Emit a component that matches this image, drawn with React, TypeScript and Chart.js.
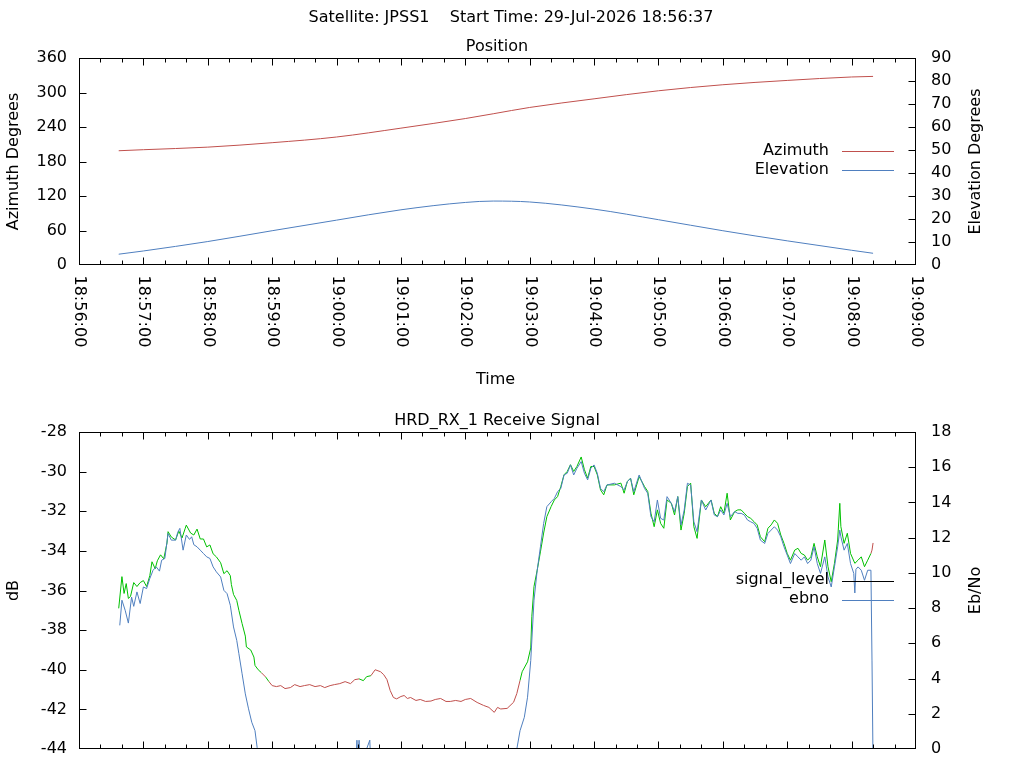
import { useEffect, useRef } from "react"
import { Chart, registerables } from "chart.js"

Chart.register(...registerables)

const FONT = '"DejaVu Sans", sans-serif'
const RED = "#c0504d"
const BLUE = "#4f7fbf"
const GREEN = "#00c000"

const mainTitle = "Satellite: JPSS1    Start Time: 29-Jul-2026 18:56:37"

// seconds after 18:56:00
const posTimes = [37, 60, 120, 180, 240, 300, 360, 386, 420, 480, 540, 600, 660, 720, 740]
const azimuth = [198.7, 200.5, 205, 212.7, 222.6, 238, 254.7, 263, 274, 289, 303, 313.5, 321, 327, 328]
const elevation = [4.7, 6.1, 10.2, 14.9, 19.5, 24, 27.2, 27.8, 27.4, 24.3, 19.7, 14.9, 10.5, 6.4, 5.1]

const signalTimes = [
  37, 40, 42, 44, 46, 48, 51, 54, 57, 60, 63, 66, 68, 71, 73, 76, 79, 82, 83, 86,
  90, 93, 96, 99, 100, 104, 107, 110, 113, 116, 119, 122, 125, 128, 132, 135, 138, 141, 142, 144,
  147, 149, 152, 155, 156, 160, 163, 164, 167, 170, 174, 177, 180, 184, 188, 192, 197, 201, 206, 210,
  215, 220, 225, 229, 234, 238, 243, 248, 253, 257, 261, 265, 268, 272, 276, 281, 284, 287, 290, 293,
  296, 300, 303, 306, 309, 314, 318, 323, 328, 332, 337, 342, 346, 351, 356, 360, 365, 371, 377, 382,
  387, 390, 393, 399, 405, 408, 411, 413, 418, 421, 422, 424, 427, 430, 433, 436, 440, 443, 446, 449,
  452, 455, 458, 461, 464, 468, 471, 474, 477, 480, 483, 486, 489, 492, 499, 505, 508, 511, 514, 517,
  522, 527, 530, 533, 536, 539, 542, 545, 548, 552, 555, 558, 561, 564, 567, 570, 573, 576, 580, 584,
  589, 592, 595, 598, 601, 604, 607, 611, 614, 617, 620, 623, 626, 629, 632, 635, 639, 642, 645, 648,
  651, 654, 657, 660, 663, 667, 670, 673, 676, 679, 682, 685, 688, 691, 695, 698, 701, 704, 707, 709,
  710, 713, 716, 719, 723, 726, 729, 732, 735, 738, 739, 740,
]
const signalDb = [
  -36.9, -35.3, -36.15, -35.65, -36.4, -36.3, -35.6, -35.8, -35.6, -35.5, -35.8, -35.25, -34.55, -34.9, -34.5, -34.2, -34.4, -33.6, -33.03, -33.3,
  -33.45, -33.0, -33.35, -32.86, -32.7, -33.1, -33.2, -32.9, -33.4, -33.4, -33.8, -33.7, -34.15, -34.3, -34.6, -35.15, -35.0, -35.25, -35.7, -36.2,
  -36.5, -37.0, -37.67, -38.3, -38.85, -39.0, -39.36, -39.78, -40.0, -40.15, -40.37, -40.6, -40.8, -40.85, -40.8, -40.95, -40.9, -40.75, -40.85, -40.8,
  -40.75, -40.85, -40.8, -40.9, -40.8, -40.75, -40.7, -40.6, -40.7, -40.5, -40.46, -40.55, -40.35, -40.3, -40.0, -40.1, -40.25, -40.5, -41.05, -41.4,
  -41.47, -41.35, -41.3, -41.45, -41.4, -41.55, -41.5, -41.6, -41.58, -41.5, -41.45, -41.6, -41.6, -41.55, -41.6, -41.5, -41.45, -41.65, -41.8, -41.9,
  -42.15, -41.9, -41.98, -41.95, -41.64, -41.2, -40.54, -40.1, -39.6, -38.9, -37.3, -35.8, -34.97, -34.05, -33.1, -32.27, -31.76, -31.43, -31.26, -30.75,
  -30.16, -29.99, -29.65, -29.99, -29.74, -29.26, -29.9, -30.33, -29.74, -29.74, -30.16, -30.92, -31.17, -30.67, -30.67, -30.58, -31.09, -30.5, -30.33, -31.17,
  -30.25, -30.75, -31.0, -32.1, -32.78, -31.93, -32.61, -32.86, -31.43, -31.6, -32.19, -31.26, -32.95, -32.1, -30.75, -30.58, -32.78, -33.37, -31.43, -31.77,
  -31.43, -32.1, -32.27, -31.77, -32.1, -31.09, -32.44, -32.02, -31.93, -31.93, -32.1, -32.27, -32.36, -32.52, -32.69, -33.29, -33.54, -32.86, -32.69, -32.44,
  -32.61, -33.2, -33.62, -34.13, -34.47, -33.96, -33.87, -34.13, -34.21, -34.47, -34.3, -33.62, -34.3, -34.8, -33.45, -34.8, -35.56, -34.63, -33.45, -31.6,
  -32.78, -33.62, -33.11, -34.13, -34.63, -34.47, -34.3, -34.8, -34.47, -34.13, -33.96, -33.6,
]
// 1 = receiver locked (green), 0 = not locked (red)
const signalLocked = [
  1, 1, 1, 1, 1, 1, 1, 1, 1, 1, 1, 1, 1, 1, 1, 1, 1, 1, 1, 1,
  1, 1, 1, 1, 1, 1, 1, 1, 1, 1, 1, 1, 1, 1, 1, 1, 1, 1, 1, 1,
  1, 1, 1, 1, 1, 1, 1, 1, 1, 0, 1, 0, 0, 0, 0, 0, 0, 0, 0, 0,
  0, 0, 0, 0, 0, 0, 0, 0, 0, 0, 1, 1, 1, 0, 0, 0, 0, 0, 0, 0,
  0, 0, 0, 0, 0, 0, 0, 0, 0, 0, 0, 0, 0, 0, 0, 0, 0, 0, 0, 0,
  0, 0, 0, 0, 0, 0, 1, 1, 1, 1, 1, 1, 1, 1, 1, 1, 1, 1, 1, 1,
  1, 1, 1, 1, 1, 1, 1, 1, 1, 1, 1, 1, 1, 1, 1, 1, 1, 1, 1, 1,
  1, 1, 1, 1, 1, 1, 1, 1, 1, 1, 1, 1, 1, 1, 1, 1, 1, 1, 1, 1,
  1, 1, 1, 1, 1, 1, 1, 1, 1, 1, 1, 1, 1, 1, 1, 1, 1, 1, 1, 1,
  1, 1, 1, 1, 1, 1, 1, 1, 1, 1, 1, 1, 1, 1, 1, 1, 1, 1, 1, 1,
  1, 1, 1, 1, 1, 1, 1, 1, 1, 0, 0, 0,
]

const ebnoTimes = [
  38, 40, 43, 46, 49, 51, 54, 57, 60, 63, 66, 69, 72, 75, 77, 80, 83, 86, 90, 92,
  94, 97, 100, 103, 105, 107, 110, 113, 116, 119, 122, 125, 128, 132, 135, 138, 141, 144, 147, 149,
  152, 155, 158, 161, 164, 166, 168, 258, 259, 260, 261, 262, 271, 272, 407, 408, 411, 415, 418, 421,
  424, 427, 430, 433, 436, 440, 443, 446, 449, 452, 455, 458, 461, 464, 468, 471, 474, 477, 480, 483,
  486, 489, 492, 499, 505, 508, 511, 514, 517, 522, 527, 530, 533, 536, 539, 542, 545, 548, 552, 555,
  558, 561, 564, 567, 570, 573, 576, 580, 584, 589, 592, 595, 598, 601, 604, 607, 611, 614, 617, 620,
  623, 626, 629, 632, 635, 639, 642, 645, 648, 651, 654, 657, 660, 663, 667, 670, 673, 676, 679, 682,
  685, 688, 691, 695, 698, 701, 704, 707, 709, 710, 713, 716, 719, 722, 723, 724, 726, 729, 732, 735,
  738, 739, 740,
]
const ebno = [
  7.02, 8.45, 7.88, 7.15, 8.63, 8.1, 8.92, 8.26, 9.2, 9.11, 9.68, 10.15, 10.34, 10.1, 10.72, 10.82, 12.24, 11.86, 11.86, 12.3,
  12.53, 11.29, 12.15, 11.9, 12.05, 11.6, 11.48, 11.29, 11.1, 10.91, 10.82, 10.34, 10.06, 9.77, 9.01, 8.82, 8.16, 6.93, 6.17, 5.41,
  4.27, 3.13, 2.28, 1.52, 1.04, 0.09, -1, -1, 0.5, -1, 0.5, -1, 0.5, -1, -1, 0, 1.04, 1.8, 2.94, 5.03,
  8.45, 10.15, 11.48, 12.81, 13.76, 14.04, 14.23, 14.61, 14.8, 15.56, 15.66, 16.13, 15.56, 15.94, 16.32, 15.66, 15.28, 15.94, 16.13, 15.66,
  14.8, 14.61, 14.99, 15.09, 14.9, 14.71, 15.18, 15.37, 14.61, 15.56, 14.8, 14.52, 13.19, 12.9, 14.14, 13.1, 13.0, 14.33, 13.95, 13.48,
  14.33, 12.72, 13.57, 15.09, 14.99, 12.9, 12.34, 14.14, 13.57, 14.14, 13.29, 13.19, 13.57, 13.29, 13.95, 13.19, 13.48, 13.38, 13.38, 13.29,
  13.0, 12.9, 12.81, 12.53, 11.86, 11.67, 12.24, 12.43, 12.62, 12.43, 12.05, 11.48, 11.01, 10.53, 11.1, 10.91, 10.72, 10.91, 10.53, 10.72,
  11.48, 10.53, 9.97, 10.91, 9.77, 9.2, 10.34, 11.48, 12.43, 12.05, 11.29, 11.67, 10.53, 9.97, 8.86, 10.2, 10.34, 10.15, 9.58, 10.15,
  10.15, 5.0, -1,
]

function clock(sec: number) {
  const total = 18 * 3600 + 56 * 60 + sec
  const h = Math.floor(total / 3600)
  const m = Math.floor(total / 60) % 60
  const s = total % 60
  return [h, m, s].map((n) => String(n).padStart(2, "0")).join(":")
}

// gnuplot style frame: inward tics, border, rotated time labels, titles and key
const frame = {
  id: "frame",
  afterDraw(chart: any, _args: any, o: any) {
    const { ctx, chartArea: a, scales } = chart
    const sx = scales.x
    const L = a.left + 0.5
    const R = a.right - 0.5
    const T = a.top + 0.5
    const B = a.bottom - 0.5
    const clamp = (v: number, lo: number, hi: number) => Math.max(lo, Math.min(hi, v))
    ctx.save()
    ctx.strokeStyle = "#000"
    ctx.lineWidth = 1
    ctx.beginPath()
    for (const t of sx.ticks) {
      const px = clamp(Math.round(sx.getPixelForValue(t.value)) + 0.5, L, R)
      const len = t.value % 60 === 0 ? 7 : 4
      ctx.moveTo(px, B)
      ctx.lineTo(px, B - len)
      ctx.moveTo(px, T)
      ctx.lineTo(px, T + len)
    }
    for (const t of scales.y.ticks) {
      const py = clamp(Math.round(scales.y.getPixelForValue(t.value)) + 0.5, T, B)
      ctx.moveTo(L, py)
      ctx.lineTo(L + 7, py)
    }
    for (const t of scales.y1.ticks) {
      const py = clamp(Math.round(scales.y1.getPixelForValue(t.value)) + 0.5, T, B)
      ctx.moveTo(R, py)
      ctx.lineTo(R - 7, py)
    }
    ctx.stroke()
    ctx.strokeRect(L, T, R - L, B - T)

    ctx.fillStyle = "#000"
    ctx.font = `16px ${FONT}`
    ctx.textBaseline = "middle"
    if (o.xLabels) {
      ctx.textAlign = "left"
      for (const t of sx.ticks) {
        if (t.value % 60 !== 0) continue
        ctx.save()
        ctx.translate(Math.round(sx.getPixelForValue(t.value)), B + 11)
        ctx.rotate(Math.PI / 2)
        ctx.fillText(clock(t.value), 0, 0)
        ctx.restore()
      }
    }
    ctx.textAlign = "center"
    const cx = (a.left + a.right) / 2
    const cy = (a.top + a.bottom) / 2
    if (o.mainTitle) ctx.fillText(o.mainTitle, 511, 17.5)
    if (o.title) ctx.fillText(o.title, cx - 0.5, a.top - 11.5)
    if (o.xTitle) ctx.fillText(o.xTitle, cx - 2, B + 115)
    const vertical = (text: string, x: number) => {
      ctx.save()
      ctx.translate(x, cy)
      ctx.rotate(-Math.PI / 2)
      ctx.fillText(text, 0, 0)
      ctx.restore()
    }
    if (o.yTitle) vertical(o.yTitle, 13.5)
    if (o.y1Title) vertical(o.y1Title, 976)

    // key
    ctx.textAlign = "right"
    chart.data.datasets.forEach((ds: any, i: number) => {
      const y = o.keyTop + i * 19
      ctx.fillText(ds.label, 829, y - 0.5)
      ctx.strokeStyle = ds.borderColor
      ctx.beginPath()
      ctx.moveTo(842, Math.round(y) + 0.5)
      ctx.lineTo(894, Math.round(y) + 0.5)
      ctx.stroke()
    })
    ctx.restore()
  },
}

const axisFont = { family: FONT, size: 16 }

function xScale(height: number) {
  return {
    type: "linear" as const,
    min: 0,
    max: 780,
    ticks: { display: false, stepSize: 20, autoSkip: false },
    grid: { display: false, drawTicks: false },
    border: { display: false },
    afterFit: (s: any) => {
      s.height = height
    },
  }
}

function yScale(pos: "left" | "right", min: number, max: number, step: number) {
  return {
    type: "linear" as const,
    position: pos,
    min,
    max,
    ticks: { stepSize: step, font: axisFont, color: "#000", padding: pos === "left" ? 12 : 15 },
    grid: { display: false, drawTicks: false },
    border: { display: false },
    afterFit: (s: any) => {
      s.width = pos === "left" ? 79 : 108
    },
  }
}

function PositionChart() {
  const ref = useRef<HTMLCanvasElement>(null)
  useEffect(() => {
    if (!ref.current) return
    const chart = new Chart(ref.current, {
      type: "line",
      data: {
        datasets: [
          {
            label: "Azimuth",
            data: posTimes.map((t, i) => ({ x: t, y: azimuth[i] })),
            yAxisID: "y",
            borderColor: RED,
            borderWidth: 1,
            pointRadius: 0,
            cubicInterpolationMode: "monotone",
          },
          {
            label: "Elevation",
            data: posTimes.map((t, i) => ({ x: t, y: elevation[i] })),
            yAxisID: "y1",
            borderColor: BLUE,
            borderWidth: 1,
            pointRadius: 0,
            cubicInterpolationMode: "monotone",
          },
        ],
      },
      options: {
        animation: false,
        responsive: false,
        devicePixelRatio: 1,
        events: [],
        layout: { padding: { top: 58, left: 0, right: 0, bottom: 0 } },
        scales: {
          x: xScale(135),
          y: yScale("left", 0, 360, 60),
          y1: yScale("right", 0, 90, 10),
        },
        plugins: {
          legend: { display: false },
          tooltip: { enabled: false },
          frame: {
            mainTitle,
            title: "Position",
            xTitle: "Time",
            yTitle: "Azimuth Degrees",
            y1Title: "Elevation Degrees",
            xLabels: true,
            keyTop: 151,
          },
        } as any,
      },
      plugins: [frame],
    })
    return () => chart.destroy()
  }, [])
  return <canvas ref={ref} width={1024} height={400} style={{ position: "absolute", left: 0, top: 0 }} />
}

function SignalChart() {
  const ref = useRef<HTMLCanvasElement>(null)
  useEffect(() => {
    if (!ref.current) return
    const chart = new Chart(ref.current, {
      type: "line",
      data: {
        datasets: [
          {
            label: "signal_level",
            data: signalTimes.map((t, i) => ({ x: t, y: signalDb[i] })),
            yAxisID: "y",
            borderColor: "#000",
            borderWidth: 1,
            pointRadius: 0,
            order: 1,
            segment: {
              borderColor: (c: any) => (signalLocked[c.p0DataIndex] ? GREEN : RED),
            },
          },
          {
            label: "ebno",
            data: ebnoTimes.map((t, i) => ({ x: t, y: ebno[i] })),
            yAxisID: "y1",
            borderColor: BLUE,
            borderWidth: 1,
            pointRadius: 0,
            order: 0,
          },
        ],
      },
      options: {
        animation: false,
        responsive: false,
        devicePixelRatio: 1,
        events: [],
        layout: { padding: { top: 32, left: 0, right: 0, bottom: 0 } },
        scales: {
          x: xScale(51),
          y: yScale("left", -44, -28, 2),
          y1: yScale("right", 0, 18, 2),
        },
        plugins: {
          legend: { display: false },
          tooltip: { enabled: false },
          frame: {
            title: "HRD_RX_1 Receive Signal",
            yTitle: "dB",
            y1Title: "Eb/No",
            xLabels: false,
            keyTop: 180.5,
          },
        } as any,
      },
      plugins: [frame],
    })
    return () => chart.destroy()
  }, [])
  return <canvas ref={ref} width={1024} height={400} style={{ position: "absolute", left: 0, top: 400 }} />
}

export default function App() {
  useEffect(() => {
    document.body.style.margin = "0"
    document.body.style.overflow = "hidden"
  }, [])
  return (
    <div style={{ position: "relative", width: 1024, height: 768, overflow: "hidden", background: "#fff" }}>
      <PositionChart />
      <SignalChart />
    </div>
  )
}
